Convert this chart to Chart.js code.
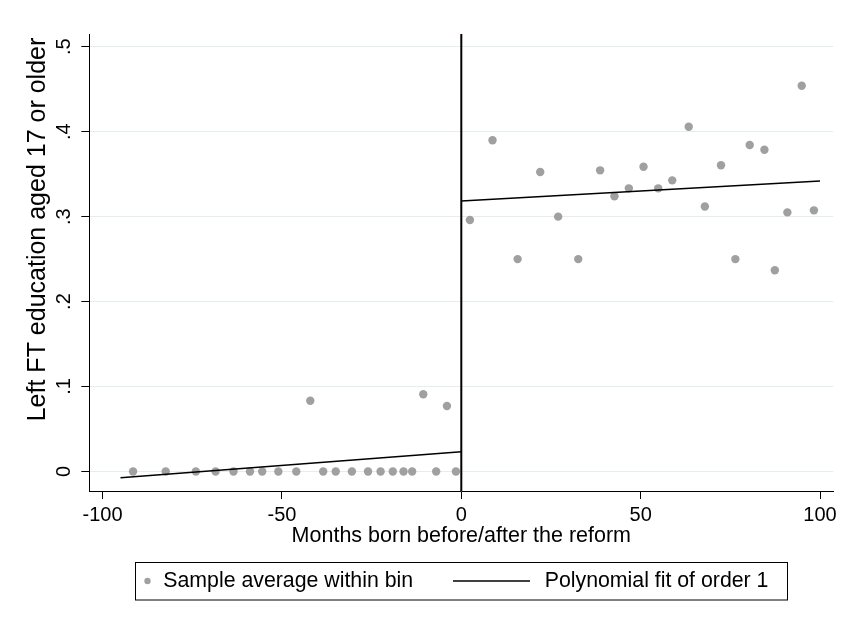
<!DOCTYPE html>
<html>
<head>
<meta charset="utf-8">
<script src="https://cdn.jsdelivr.net/npm/chart.js@4.4.1/dist/chart.umd.min.js"></script>
<style>
  html, body { margin: 0; padding: 0; background: #ffffff; }
  #wrap { width: 847px; height: 620px; }
</style>
</head>
<body>
<div id="wrap"><canvas id="chart" width="847" height="620"></canvas></div>
<script>
// Binned sample means: month of birth relative to the reform, share leaving FT education at 17+
const binMonthsBefore = [-91.5, -82.4, -74.0, -68.5, -63.5, -58.9, -55.5, -51.0, -46.0, -42.1, -38.5,
                         -35.0, -30.5, -26.0, -22.5, -19.1, -16.1, -13.7, -10.6, -7.0, -4.0, -1.5];
const binMeansBefore  = [0, 0, 0, 0, 0, 0, 0, 0, 0, 0.0833, 0,
                         0, 0, 0, 0, 0, 0, 0, 0.0909, 0, 0.0771, 0];
const binMonthsAfter  = [2.4, 8.7, 15.7, 22.0, 27.0, 32.6, 38.7, 42.7, 46.7, 50.8, 54.9,
                         58.8, 63.4, 67.9, 72.4, 76.4, 80.4, 84.5, 87.4, 90.9, 94.9, 98.3];
const binMeansAfter   = [0.296, 0.390, 0.250, 0.3525, 0.300, 0.250, 0.3545, 0.324, 0.3333, 0.3588, 0.3333,
                         0.3427, 0.4058, 0.312, 0.3604, 0.250, 0.3843, 0.3788, 0.2368, 0.305, 0.4541, 0.3074];

// Linear fits on either side of the cutoff (start and end of each segment)
const fitBeforeX = [-95, 0];
const fitBeforeY = [-0.0073, 0.0233];
const fitAfterX  = [0, 100];
const fitAfterY  = [0.3184, 0.3419];

const cutoffMonth = 0;

const xTickValues = [-100, -50, 0, 50, 100];
const xTickLabels = ['-100', '-50', '0', '50', '100'];
const yTickValues = [0, 0.1, 0.2, 0.3, 0.4, 0.5];
const yTickLabels = ['0', '.1', '.2', '.3', '.4', '.5'];
const xRange = [-103.7, 103.7];
const yRange = [-0.023, 0.515];

const seriesLabels = ['Sample average within bin', 'Polynomial fit of order 1'];
const xTitle = 'Months born before/after the reform';
const yTitle = 'Left FT education aged 17 or older';

const FONT = "'Liberation Sans', Arial, Helvetica, sans-serif";
const MARKER = '#a0a0a0';

const toPoints = (xs, ys) => xs.map((x, i) => ({ x: x, y: ys[i] }));

// Y-axis title and boxed legend
const decorations = {
  id: 'decorations',
  afterDraw(chart) {
    const ctx = chart.ctx;
    ctx.save();
    ctx.fillStyle = '#000';
    // y title, rotated to read bottom to top
    ctx.save();
    ctx.translate(38, 229.5);
    ctx.rotate(-Math.PI / 2);
    ctx.font = '25px ' + FONT;
    ctx.textAlign = 'center';
    ctx.textBaseline = 'middle';
    ctx.fillText(yTitle, 0, 0);
    ctx.restore();

    // legend box
    ctx.strokeStyle = '#000';
    ctx.lineWidth = 1;
    ctx.strokeRect(135.5, 562.5, 652, 37.5);
    const cy = 581;
    ctx.fillStyle = MARKER;
    ctx.beginPath();
    ctx.arc(147.5, cy, 3.2, 0, Math.PI * 2);
    ctx.fill();
    ctx.fillStyle = '#000';
    ctx.font = '21.3px ' + FONT;
    ctx.textAlign = 'left';
    ctx.textBaseline = 'middle';
    ctx.fillText(chart.data.datasets[0].label, 163.3, cy + 0.5);
    ctx.lineWidth = 1.5;
    ctx.beginPath();
    ctx.moveTo(453, cy);
    ctx.lineTo(530, cy);
    ctx.stroke();
    ctx.fillText(chart.data.datasets[1].label, 544.7, cy + 0.5);
    ctx.restore();
  }
};

new Chart(document.getElementById('chart'), {
  type: 'scatter',
  data: {
    datasets: [
      {
        label: seriesLabels[0],
        data: toPoints(binMonthsBefore.concat(binMonthsAfter), binMeansBefore.concat(binMeansAfter)),
        backgroundColor: MARKER,
        borderWidth: 0,
        pointRadius: 4.2,
        order: 3
      },
      {
        label: seriesLabels[1],
        type: 'line',
        data: toPoints(fitBeforeX, fitBeforeY),
        borderColor: '#000',
        borderWidth: 1.5,
        pointRadius: 0,
        fill: false,
        order: 1
      },
      {
        label: seriesLabels[1],
        type: 'line',
        data: toPoints(fitAfterX, fitAfterY),
        borderColor: '#000',
        borderWidth: 1.5,
        pointRadius: 0,
        fill: false,
        order: 1
      },
      {
        label: 'cutoff',
        type: 'line',
        data: toPoints([cutoffMonth, cutoffMonth], yRange),
        borderColor: '#000',
        borderWidth: 2,
        pointRadius: 0,
        fill: false,
        order: 2
      }
    ]
  },
  options: {
    responsive: false,
    animation: false,
    devicePixelRatio: 1,
    layout: { padding: { left: 0, top: 34, right: 13.7, bottom: 69 } },
    plugins: {
      legend: { display: false },
      tooltip: { enabled: false }
    },
    scales: {
      x: {
        type: 'linear',
        min: xRange[0],
        max: xRange[1],
        afterBuildTicks: (axis) => { axis.ticks = xTickValues.map(v => ({ value: v })); },
        afterFit: (axis) => { axis.height = 60; axis.paddingLeft = 0; axis.paddingRight = 0; },
        ticks: {
          autoSkip: false,
          maxRotation: 0,
          minRotation: 0,
          padding: 6.5,
          color: '#000',
          font: { family: FONT, size: 20, lineHeight: 1 },
          callback: (v) => xTickLabels[xTickValues.indexOf(v)]
        },
        grid: {
          drawOnChartArea: false,
          drawTicks: true,
          tickLength: 8,
          tickColor: '#000',
          tickWidth: 1
        },
        border: { display: true, color: '#000', width: 1 },
        title: {
          display: true,
          text: xTitle,
          color: '#000',
          font: { family: FONT, size: 21.5, lineHeight: 1 },
          padding: { top: 0, bottom: 4 }
        }
      },
      y: {
        type: 'linear',
        min: yRange[0],
        max: yRange[1],
        afterBuildTicks: (axis) => { axis.ticks = yTickValues.map(v => ({ value: v })); },
        afterFit: (axis) => { axis.width = 89.3; axis.paddingTop = 0; axis.paddingBottom = 0; },
        ticks: {
          minRotation: 90,
          maxRotation: 90,
          crossAlign: 'center',
          padding: 8,
          color: '#000',
          font: { family: FONT, size: 20, lineHeight: 1 },
          callback: (v) => yTickLabels[yTickValues.indexOf(v)]
        },
        grid: {
          color: '#e4edf0',
          lineWidth: 1,
          drawTicks: true,
          tickLength: 8,
          tickColor: '#000',
          tickWidth: 1
        },
        border: { display: true, color: '#000', width: 1 }
      }
    }
  },
  plugins: [decorations]
});
</script>
</body>
</html>
